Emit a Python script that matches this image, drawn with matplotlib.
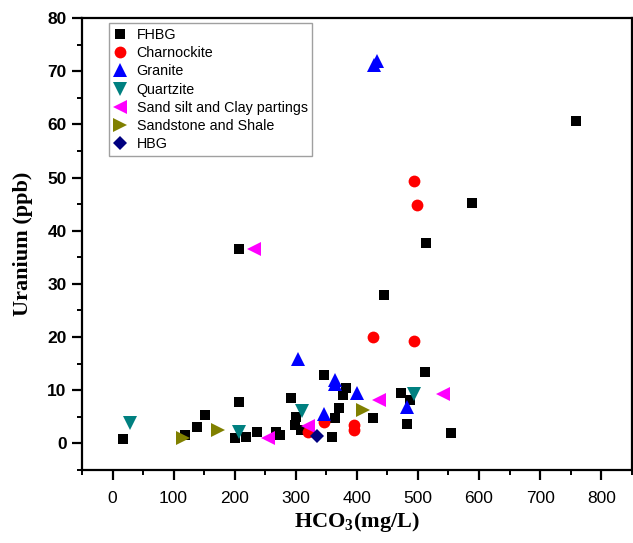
import matplotlib
matplotlib.use("Agg")
import matplotlib.pyplot as plt
from matplotlib.ticker import MultipleLocator

plt.rcParams["mathtext.fontset"] = "custom"
plt.rcParams["mathtext.rm"] = "Liberation Serif:bold"
plt.rcParams["mathtext.bf"] = "Liberation Serif:bold"

# FHBG
fhbg_x = [17, 118, 139, 151, 207, 207, 200, 219, 237, 267, 274, 292, 298, 300, 309,
          347, 365, 370, 377, 382, 359, 426, 444, 472, 487, 482, 512, 554, 513, 588, 758]
fhbg_y = [0.9, 1.5, 3.0, 5.3, 7.8, 36.6, 1.0, 1.3, 2.2, 2.2, 1.6, 8.5, 3.4, 5.0, 2.6,
          12.8, 4.7, 6.6, 9.2, 10.4, 1.3, 4.7, 27.9, 9.5, 8.1, 3.6, 13.4, 2.0, 37.6, 45.2, 60.7]
# Charnockite
char_x = [494, 499, 426, 493, 395, 395, 347, 320]
char_y = [49.4, 44.8, 20.0, 19.3, 3.5, 2.5, 4.1, 2.2]
# Granite
gran_x = [428, 433, 304, 365, 365, 401, 347, 482]
gran_y = [71.2, 72.0, 15.9, 11.9, 11.1, 9.5, 5.6, 6.9]
# Quartzite
qtz_x = [29, 207, 310, 494]
qtz_y = [3.9, 2.1, 6.1, 9.3]
# Sand silt and Clay partings
sand_x = [232, 254, 320, 437, 541]
sand_y = [36.6, 1.0, 3.3, 8.1, 9.3]
# Sandstone and Shale
sst_x = [115, 172, 410]
sst_y = [1.1, 2.6, 6.3]
# HBG
hbg_x = [334]
hbg_y = [1.4]

series = [
    ("FHBG", fhbg_x, fhbg_y, "s", "#000000", 7.5),
    ("Charnockite", char_x, char_y, "o", "#ff0000", 8.5),
    ("Granite", gran_x, gran_y, "^", "#0000ff", 9.5),
    ("Quartzite", qtz_x, qtz_y, "v", "#008080", 9.5),
    ("Sand silt and Clay partings", sand_x, sand_y, "<", "#ff00ff", 9.5),
    ("Sandstone and Shale", sst_x, sst_y, ">", "#808000", 9.5),
    ("HBG", hbg_x, hbg_y, "D", "#000080", 7.0),
]

fig = plt.figure(figsize=(6.33, 5.43), dpi=100)
ax = fig.add_axes([0.1295, 0.1344, 0.8685, 0.8324])

for name, xs, ys, m, c, ms in series:
    ax.plot(xs, ys, linestyle="none", marker=m, color=c, markersize=ms,
            markeredgewidth=0, label=name)

ax.set_xlim(-50, 850)
ax.set_ylim(-5, 80)
ax.xaxis.set_major_locator(MultipleLocator(100))
ax.xaxis.set_minor_locator(MultipleLocator(50))
ax.yaxis.set_major_locator(MultipleLocator(10))
ax.yaxis.set_minor_locator(MultipleLocator(5))
ax.tick_params(which="major", direction="out", length=7, width=1.6,
               labelsize=12.5)
ax.tick_params(axis="x", which="major", pad=8)
ax.tick_params(axis="y", which="major", pad=4)
ax.tick_params(which="minor", direction="out", length=3.6, width=1.4)
for lab in ax.get_xticklabels():
    lab.set_fontfamily("Liberation Sans")
for lab in ax.get_yticklabels():
    lab.set_fontfamily("Liberation Sans")
    lab.set_fontweight("bold")
for s in ax.spines.values():
    s.set_linewidth(1.6)

ax.set_xlabel(r"HCO$_3$(mg/L)", fontsize=16, fontweight="bold",
              fontfamily="Liberation Serif", labelpad=3)
ax.set_ylabel("Uranium (ppb)", fontsize=16, fontweight="bold",
              fontfamily="Liberation Serif", labelpad=10)

leg = ax.legend(loc="upper left", bbox_to_anchor=(0.05, 0.988),
                prop={"family": "Liberation Sans", "size": 10.3},
                frameon=True, fancybox=False, edgecolor="#888888",
                handletextpad=0.7, labelspacing=0.3, borderpad=0.3,
                handlelength=0.9, borderaxespad=0.0)
leg.get_frame().set_linewidth(1.0)

fig.savefig("out.png", dpi=100)
